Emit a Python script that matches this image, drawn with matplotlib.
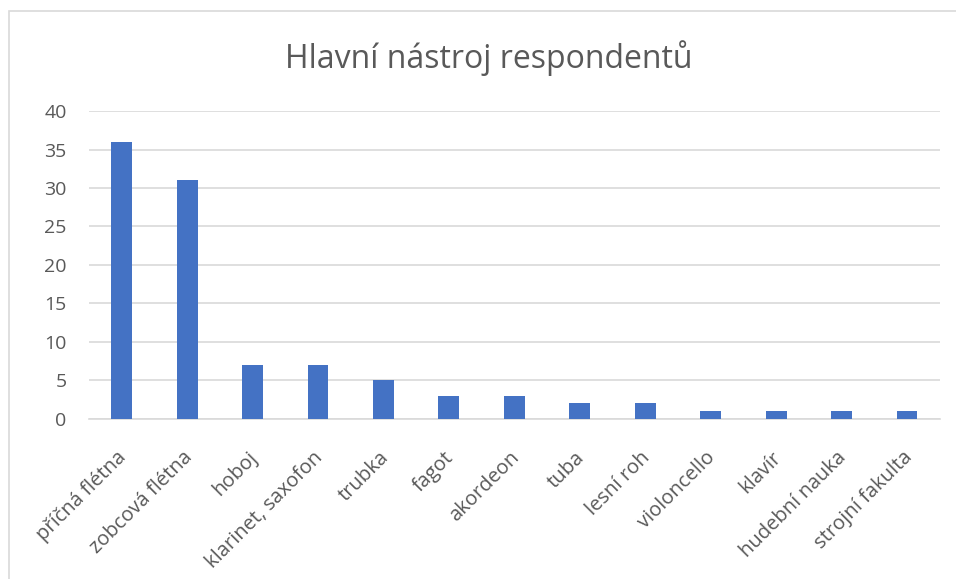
import matplotlib.pyplot as plt
import matplotlib.transforms as mtransforms
from matplotlib.patches import Rectangle

plt.rcParams['font.family'] = ['Open Sans', 'DejaVu Sans']

# Data
nastroje = ['příčná flétna', 'zobcová flétna', 'hoboj', 'klarinet, saxofon',
            'trubka', 'fagot', 'akordeon', 'tuba', 'lesní roh', 'violoncello',
            'klavír', 'hudební nauka', 'strojní fakulta']
pocty = [36, 31, 7, 7, 5, 3, 3, 2, 2, 1, 1, 1, 1]

seda = '#595959'

fig = plt.figure(figsize=(9.56, 5.79), dpi=100)
ax = fig.add_axes([0.093, 0.277, 0.890, 0.531])

x = range(len(nastroje))
ax.bar(x, pocty, width=0.32, color='#4472C4', zorder=3)

ax.set_xlim(-0.5, len(nastroje) - 0.5)
ax.set_ylim(0, 40)
ax.set_yticks(range(0, 41, 5))
ax.yaxis.grid(True, color='#D9D9D9', linewidth=1.2, zorder=0)
for s in ['top', 'right', 'left']:
    ax.spines[s].set_visible(False)
ax.spines['bottom'].set_color('#D9D9D9')
ax.spines['bottom'].set_linewidth(1.2)
ax.tick_params(axis='both', length=0, labelsize=14, colors=seda)
ax.tick_params(axis='y', pad=16)
ax.tick_params(axis='x', pad=21, labelsize=14.5)

ax.set_xticks(list(x))
ax.set_xticklabels(nastroje, rotation=45, ha='right', va='top',
                   rotation_mode='anchor')
# posun popisků trochu doleva
posun = mtransforms.ScaledTranslation(-5 / 100, 0, fig.dpi_scale_trans)
for lbl in ax.get_xticklabels():
    lbl.set_transform(lbl.get_transform() + posun)

fig.suptitle('Hlavní nástroj respondentů', x=0.511, y=0.900, va='center',
             fontsize=23, color=seda)

# Ohraničení grafu
fig.patches.append(Rectangle((0.009, -0.1), 1.1, 1.081, transform=fig.transFigure,
                             fill=False, edgecolor='#D9D9D9', linewidth=1.2))

fig.savefig('out.png', dpi=100)
